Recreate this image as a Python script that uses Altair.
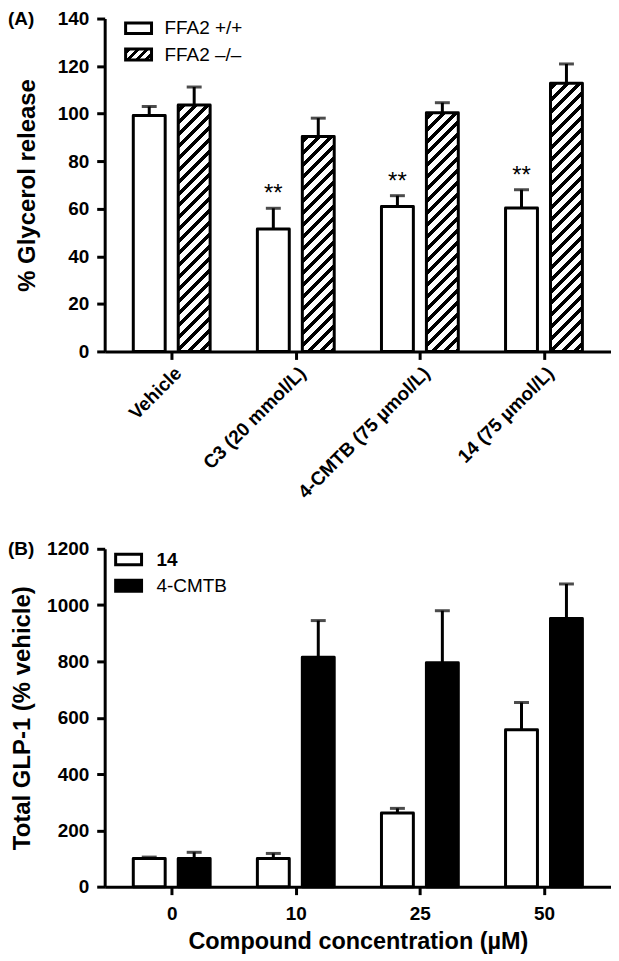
import json
import altair as alt
import pandas as pd

# ---------------- data ----------------
treatments = ["Vehicle", "C3 (20 mmol/L)", "4-CMTB (75 µmol/L)", "14 (75 µmol/L)"]
genotypes = ["FFA2 +/+", "FFA2 –/–"]
wt_mean = [99.2, 51.5, 61.0, 60.3]
wt_sem = [3.8, 8.7, 4.5, 7.7]
ko_mean = [103.6, 90.4, 100.4, 112.8]
ko_sem = [7.6, 7.7, 4.2, 8.1]
wt_sig = ["", "**", "**", "**"]

concentrations = ["0", "10", "25", "50"]
compounds = ["14", "4-CMTB"]
c14_mean = [100, 100, 262, 557]
c14_sem = [5, 18, 16, 97]
cmtb_mean = [100, 815, 795, 952]
cmtb_sem = [22, 130, 185, 123]

# ---------------- layout constants ----------------
FONT = "Liberation Sans, Arial, Helvetica, sans-serif"
W = 508
HA = 334
HB = 339
BAR_W = 32
SW = 3
YMAX_A = 140
YMAX_B = 1200
SHIFT = 23 / 127  # bar centre offset from group centre, in group units

# ---------------- tables ----------------
dfA = pd.DataFrame({
    "treatment": treatments * 2,
    "idx": list(range(4)) * 2,
    "genotype": [genotypes[0]] * 4 + [genotypes[1]] * 4,
    "value": wt_mean + ko_mean,
    "err": wt_sem + ko_sem,
    "sig": wt_sig + [""] * 4,
})
dfA["upper"] = dfA["value"] + dfA["err"]
dfA["pos"] = dfA["idx"] + dfA["genotype"].map({genotypes[0]: -SHIFT, genotypes[1]: SHIFT})

dfB = pd.DataFrame({
    "conc": concentrations * 2,
    "idx": list(range(4)) * 2,
    "compound": [compounds[0]] * 4 + [compounds[1]] * 4,
    "value": c14_mean + cmtb_mean,
    "err": c14_sem + cmtb_sem,
})
dfB["upper"] = dfB["value"] + dfB["err"]
dfB["pos"] = dfB["idx"] + dfB["compound"].map({compounds[0]: -SHIFT, compounds[1]: SHIFT})


def hatch(w, h, period=12.0, black=5.0, phase=3.0):
    """Diagonal '/' stripes as a hard-stop linear gradient for a w x h box."""
    S = w + h
    k = S * h / (w * w + h * h)
    stops = [{"offset": 0, "color": "white"}]
    p = phase - period
    while p < S:
        a = max(p, 0.0)
        b = min(p + black, S)
        if b > 0 and a < S:
            oa, ob = round(a / S, 5), round(b / S, 5)
            stops += [
                {"offset": oa, "color": "white"},
                {"offset": oa, "color": "black"},
                {"offset": ob, "color": "black"},
                {"offset": ob, "color": "white"},
            ]
        p += period
    return {"gradient": "linear", "x1": 0, "y1": 0,
            "x2": round(k * w / h, 5), "y2": round(k, 5), "stops": stops}


def one_row(label):
    return pd.DataFrame({"t": [label]})


def label_expr(names):
    return json.dumps(names, ensure_ascii=False) + "[datum.value]"


axis_common = dict(domainWidth=SW, tickWidth=SW, tickSize=8, domainColor="black",
                   tickColor="black", labelColor="black", titleColor="black",
                   labelFont=FONT, titleFont=FONT, labelFontSize=19,
                   labelFontWeight="bold", titleFontWeight="bold", grid=False,
                   labelOverlap=False, labelFlush=False)

x_scale = alt.Scale(domain=[-0.5, 3.5], nice=False, zero=False)

# ---------------- panel A ----------------
xA = alt.X("pos:Q", scale=x_scale,
           axis=alt.Axis(values=[0, 1, 2, 3], labelExpr=label_expr(treatments),
                         labelAngle=-45, labelAlign="right", labelBaseline="top",
                         labelPadding=4, **axis_common),
           title=None)
yA_scale = alt.Scale(domain=[0, YMAX_A], nice=False, zero=True)
yA = alt.Y("value:Q", scale=yA_scale,
           axis=alt.Axis(values=list(range(0, 141, 20)), labelPadding=8, format="d",
                         titleX=-77, titleBaseline="middle", titleFontSize=24,
                         **axis_common),
           title="% Glycerol release")

baseA = alt.Chart(dfA)
stemsA = baseA.mark_rule(color="black", strokeWidth=SW).encode(x=xA, y=yA, y2="upper:Q")
wtBars = baseA.mark_bar(width=BAR_W, fill="white", stroke="black", strokeWidth=SW,
                        strokeJoin="round").encode(x=xA, y=yA).transform_filter(
    alt.FieldEqualPredicate(field="genotype", equal=genotypes[0]))
koBars = []
for t, v in zip(treatments, ko_mean):
    koBars.append(
        baseA.mark_bar(width=BAR_W, fill=hatch(BAR_W, v * HA / YMAX_A), stroke="black",
                       strokeWidth=SW, strokeJoin="round")
        .encode(x=xA, y=yA)
        .transform_filter(alt.FieldEqualPredicate(field="genotype", equal=genotypes[1]))
        .transform_filter(alt.FieldEqualPredicate(field="treatment", equal=t))
    )
capsA = baseA.mark_tick(orient="horizontal", size=15, thickness=SW, color="black").encode(
    x=xA, y=alt.Y("upper:Q", scale=yA_scale))
starsA = baseA.mark_text(fontSize=24, baseline="alphabetic", dy=-7, color="black",
                         font=FONT).encode(
    x=xA, y=alt.Y("upper:Q", scale=yA_scale), text="sig:N")

labA = alt.Chart(one_row("(A)")).mark_text(align="left", baseline="middle", fontSize=19,
                                           fontWeight="bold", font=FONT, color="black").encode(
    text="t:N", x=alt.value(-97), y=alt.value(0))
legA_box1 = alt.Chart(one_row("a")).mark_rect(fill="white", stroke="black", strokeWidth=SW).encode(
    x=alt.value(21), x2=alt.value(47), y=alt.value(4.5), y2=alt.value(15))
legA_box2 = alt.Chart(one_row("b")).mark_rect(fill=hatch(26, 11, period=9.0, black=4.0, phase=2.0),
                                              stroke="black", strokeWidth=SW).encode(
    x=alt.value(21), x2=alt.value(47), y=alt.value(30.5), y2=alt.value(41.5))
legA_t1 = alt.Chart(one_row(genotypes[0])).mark_text(align="left", baseline="middle", fontSize=19,
                                                     font=FONT, color="black").encode(
    text="t:N", x=alt.value(60), y=alt.value(10))
legA_t2 = alt.Chart(one_row(genotypes[1])).mark_text(align="left", baseline="middle", fontSize=19,
                                                     font=FONT, color="black").encode(
    text="t:N", x=alt.value(60), y=alt.value(36.5))

panelA = alt.layer(stemsA, wtBars, *koBars, capsA, starsA, labA,
                   legA_box1, legA_box2, legA_t1, legA_t2).properties(width=W, height=HA)

# ---------------- panel B ----------------
xB = alt.X("pos:Q", scale=x_scale,
           axis=alt.Axis(values=[0, 1, 2, 3], labelExpr=label_expr(concentrations),
                         labelAngle=0, labelPadding=10, titlePadding=6, titleFontSize=23.5,
                         **axis_common),
           title="Compound concentration (µM)")
yB_scale = alt.Scale(domain=[0, YMAX_B], nice=False, zero=True)
yB = alt.Y("value:Q", scale=yB_scale,
           axis=alt.Axis(values=list(range(0, 1201, 200)), labelPadding=8, format="d",
                         titleX=-82, titleBaseline="middle", titleFontSize=24,
                         **axis_common),
           title="Total GLP-1 (% vehicle)")

baseB = alt.Chart(dfB)
stemsB = baseB.mark_rule(color="black", strokeWidth=SW).encode(x=xB, y=yB, y2="upper:Q")
barsB = baseB.mark_bar(width=BAR_W, stroke="black", strokeWidth=SW, strokeJoin="round").encode(
    x=xB, y=yB,
    fill=alt.Fill("compound:N", scale=alt.Scale(domain=compounds, range=["white", "black"]),
                  legend=None))
capsB = baseB.mark_tick(orient="horizontal", size=15, thickness=SW, color="black").encode(
    x=xB, y=alt.Y("upper:Q", scale=yB_scale))

labB = alt.Chart(one_row("(B)")).mark_text(align="left", baseline="middle", fontSize=19,
                                           fontWeight="bold", font=FONT, color="black").encode(
    text="t:N", x=alt.value(-97), y=alt.value(0))
legB_box1 = alt.Chart(one_row("a")).mark_rect(fill="white", stroke="black", strokeWidth=SW).encode(
    x=alt.value(11), x2=alt.value(37), y=alt.value(5.5), y2=alt.value(16))
legB_box2 = alt.Chart(one_row("b")).mark_rect(fill="black", stroke="black", strokeWidth=SW).encode(
    x=alt.value(11), x2=alt.value(37), y=alt.value(31.5), y2=alt.value(42.5))
legB_t1 = alt.Chart(one_row(compounds[0])).mark_text(align="left", baseline="middle", fontSize=19,
                                                     fontWeight="bold", font=FONT, color="black").encode(
    text="t:N", x=alt.value(52), y=alt.value(11))
legB_t2 = alt.Chart(one_row(compounds[1])).mark_text(align="left", baseline="middle", fontSize=19,
                                                     font=FONT, color="black").encode(
    text="t:N", x=alt.value(52), y=alt.value(37))

panelB = alt.layer(stemsB, barsB, capsB, labB, legB_box1, legB_box2,
                   legB_t1, legB_t2).properties(width=W, height=HB)

chart = (
    alt.vconcat(panelA, panelB, spacing=37)
    .properties(padding=0)
    .configure_view(strokeWidth=0)
)

chart.save("out.html", embed_options={"renderer": "svg", "actions": False})
